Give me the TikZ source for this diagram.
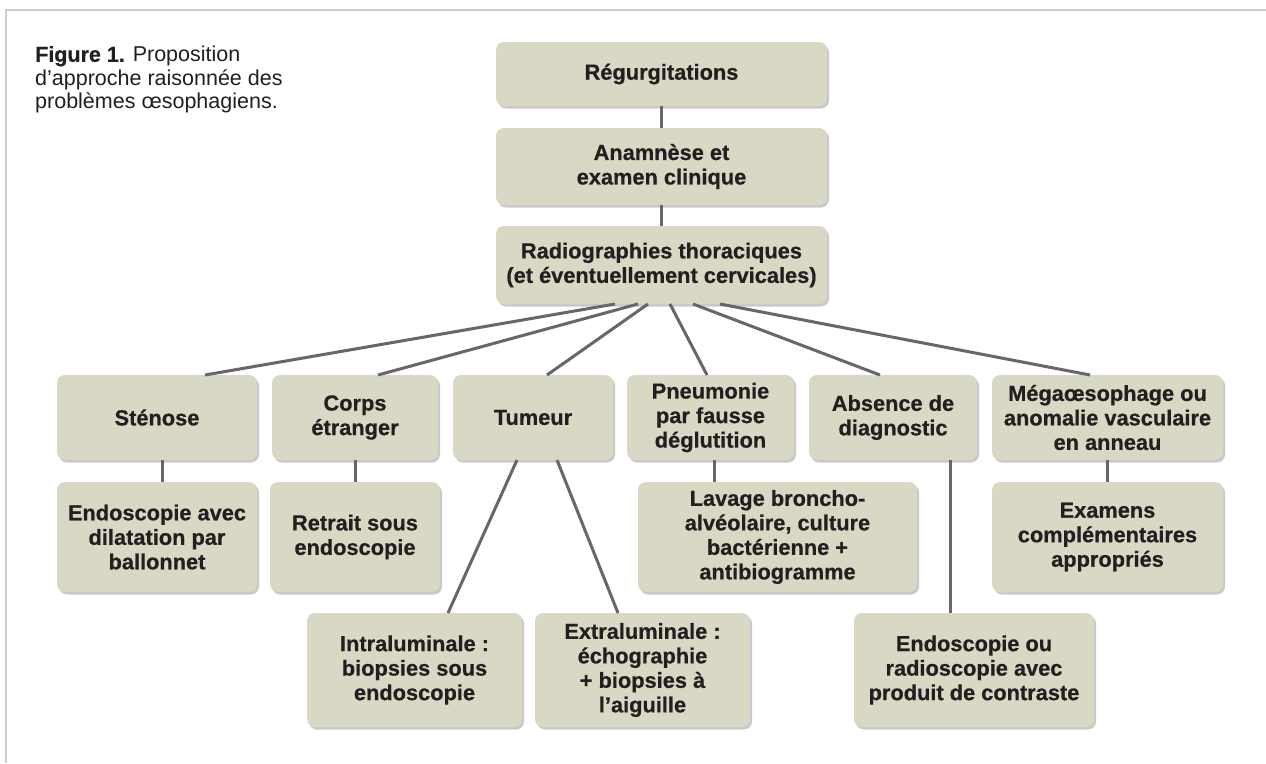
\documentclass[tikz,border=0pt]{standalone}
\usepackage{fontspec}
\setmainfont{Liberation Sans}
\newfontfamily\heavyfont[FakeBold=0.6]{Liberation Sans Bold}
\usetikzlibrary{shadows}
\definecolor{boxfill}{HTML}{D9D8C5}
\definecolor{linegray}{HTML}{67676A}
\definecolor{txt}{HTML}{231F20}
\definecolor{framegray}{HTML}{CCCCCC}
\begin{document}
\begin{tikzpicture}[x=1pt,y=-1pt,
  box/.style={fill=boxfill, rounded corners=8pt,
    drop shadow={shadow xshift=2pt,shadow yshift=-2.5pt,opacity=0.35,fill=black!60},
    text=txt, font=\fontsize{21.8}{24.5}\selectfont\heavyfont, align=center,
    inner sep=0pt, outer sep=0pt},
  conn/.style={draw=linegray, line width=3pt},
  caption/.style={anchor=north west, text=txt, align=left, inner sep=0pt,
    font=\fontsize{21.5}{23.5}\selectfont}]
\useasboundingbox (0,0) rectangle (1266,763);
\fill[white] (0,0) rectangle (1266,763);
\draw[framegray, line width=2pt] (1266,10) -- (6,10) -- (6,763);

\node[caption] (cap) at (35,46) {{\heavyfont Figure 1.} Proposition\\d’approche raisonnée des\\problèmes œsophagiens.};

\node[box, minimum width=331pt, minimum height=64pt] (reg) at (661.5,74) {Régurgitations};
\node[box, minimum width=331pt, minimum height=77pt] (anam) at (661.5,166.5) {Anamnèse et\\examen clinique};
\node[box, minimum width=331pt, minimum height=78pt] (radio) at (661.5,265) {Radiographies thoraciques\\(et éventuellement cervicales)};

\node[box, minimum width=200pt, minimum height=85pt] (sten) at (157,417.5) {Sténose};
\node[box, minimum width=166pt, minimum height=85pt] (corps) at (355,417.5) {Corps\\étranger};
\node[box, minimum width=160pt, minimum height=85pt] (tum) at (533,417.5) {Tumeur};
\node[box, minimum width=167pt, minimum height=85pt] (pneu) at (710.5,417.5) {Pneumonie\\par fausse\\déglutition};
\node[box, minimum width=168pt, minimum height=85pt] (abs) at (893,417.5) {Absence de\\diagnostic};
\node[box, minimum width=231pt, minimum height=85pt] (mega) at (1107.5,417.5) {Mégaœsophage ou\\anomalie vasculaire\\en anneau};

\node[box, minimum width=200pt, minimum height=110pt] (endo) at (157,537) {Endoscopie avec\\dilatation par\\ballonnet};
\node[box, minimum width=170pt, minimum height=110pt] (retr) at (355,537) {Retrait sous\\endoscopie};
\node[box, minimum width=279pt, minimum height=110pt] (lav) at (777.5,537) {Lavage broncho-\\alvéolaire, culture\\bactérienne +\\antibiogramme};
\node[box, minimum width=231pt, minimum height=110pt] (exam) at (1107.5,537) {Examens\\complémentaires\\appropriés};

\node[box, minimum width=215pt, minimum height=114pt] (intra) at (414.5,670) {Intraluminale :\\biopsies sous\\endoscopie};
\node[box, minimum width=215pt, minimum height=114pt] (extra) at (642.5,670) {Extraluminale :\\échographie\\+ biopsies à\\l’aiguille};
\node[box, minimum width=240pt, minimum height=114pt] (endo2) at (974,670) {Endoscopie ou\\radioscopie avec\\produit de contraste};

\draw[conn] (reg.south) -- (anam.north);
\draw[conn] (anam.south) -- (radio.north);

\draw[conn] ([xshift=-46.5pt]radio.south) -- ([xshift=48pt]sten.north);
\draw[conn] ([xshift=-23.5pt]radio.south) -- ([xshift=23pt]corps.north);
\draw[conn] ([xshift=-13.5pt]radio.south) -- ([xshift=14pt]tum.north);
\draw[conn] ([xshift=8.5pt]radio.south) -- ([xshift=-3.5pt]pneu.north);
\draw[conn] ([xshift=31.5pt]radio.south) -- ([xshift=-13pt]abs.north);
\draw[conn] ([xshift=58.5pt]radio.south) -- ([xshift=-17.5pt]mega.north);

\draw[conn] ([xshift=5pt]sten.south) -- ([xshift=5pt]endo.north);
\draw[conn] (corps.south) -- (retr.north);
\draw[conn] ([xshift=3.5pt]pneu.south) -- ([xshift=-63.5pt]lav.north);
\draw[conn] (mega.south) -- (exam.north);
\draw[conn] ([xshift=57pt]abs.south) -- ([xshift=-24pt]endo2.north);
\draw[conn] ([xshift=-16pt]tum.south) -- ([xshift=33.5pt]intra.north);
\draw[conn] ([xshift=24pt]tum.south) -- ([xshift=-24.5pt]extra.north);
\end{tikzpicture}
\end{document}
